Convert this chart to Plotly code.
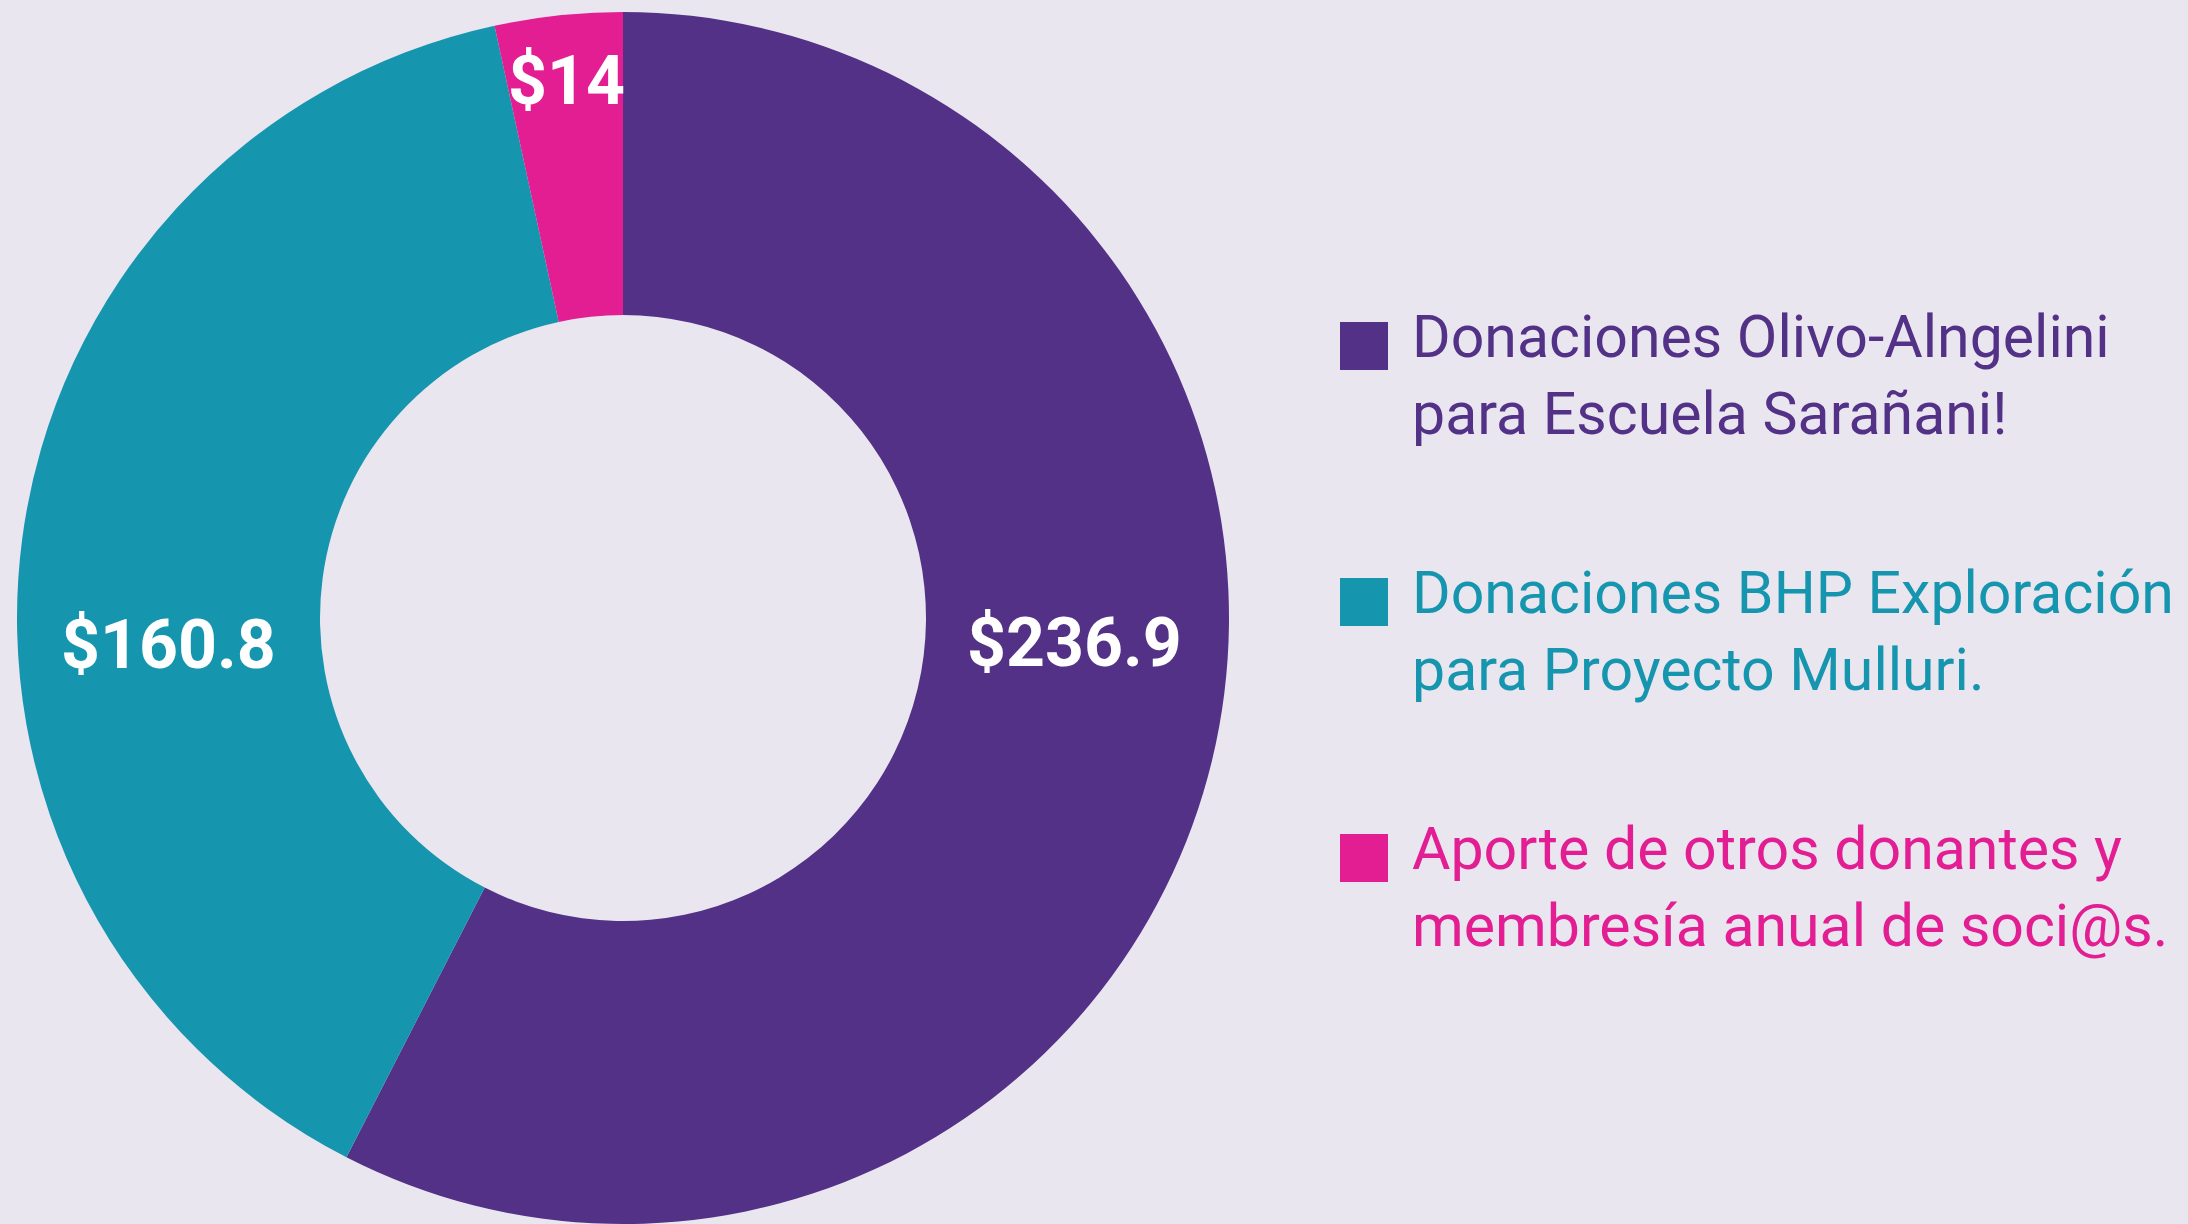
import plotly.graph_objects as go

# ---- data ----
categories = [
    "Donaciones Olivo-Alngelini para Escuela Sarañani!",
    "Donaciones BHP Exploración para Proyecto Mulluri.",
    "Aporte de otros donantes y membresía anual de soci@s.",
]
legend_lines = [
    ["Donaciones Olivo-Alngelini", "para Escuela Sarañani!"],
    ["Donaciones BHP Exploración", "para Proyecto Mulluri."],
    ["Aporte de otros donantes y", "membresía anual de soci@s."],
]
values = [236.9, 160.8, 14]
value_labels = ["$236.9", "$160.8", "$14"]

# ---- styles / layout ----
W, H = 2188, 1224
colors = ["#523187", "#1695AF", "#E31E93"]
bg = "#E9E6F0"
FONT = "Roboto, Lato, sans-serif"

# label anchor positions (px, from top-left)
label_pos = [(1074, 643), (168, 645), (566, 81)]

fig = go.Figure()
fig.add_trace(go.Pie(
    labels=categories,
    values=values,
    hole=0.5,
    sort=False,
    direction="clockwise",
    rotation=0,
    marker=dict(colors=colors, line=dict(width=0)),
    textinfo="none",
    hoverinfo="skip",
    showlegend=False,
    domain=dict(x=[0, 1246 / W], y=[0, 1212 / H]),
))

annotations = []
for txt, (px, py) in zip(value_labels, label_pos):
    annotations.append(dict(
        x=px / W, y=1 - py / H, xref="paper", yref="paper",
        text=txt, showarrow=False, xanchor="center", yanchor="middle",
        font=dict(family=FONT, size=68, color="white", weight="bold"),
    ))

shapes = []
sw_x0, sw_size, top0, step = 1340, 48, 322, 256
text_x, block_mid = 1410, 53
for i, lines in enumerate(legend_lines):
    top = top0 + i * step
    shapes.append(dict(
        type="rect", xref="paper", yref="paper",
        x0=sw_x0 / W, x1=(sw_x0 + sw_size) / W,
        y0=1 - top / H, y1=1 - (top + sw_size) / H,
        fillcolor=colors[i], line=dict(width=0),
    ))
    annotations.append(dict(
        x=text_x / W, y=1 - (top + block_mid) / H, xref="paper", yref="paper",
        text="<br>".join(lines), showarrow=False, align="left",
        xanchor="left", yanchor="middle",
        font=dict(family=FONT, size=59, color=colors[i]),
    ))

fig.update_layout(
    width=W, height=H,
    margin=dict(l=0, r=0, t=0, b=0),
    paper_bgcolor=bg, plot_bgcolor=bg,
    showlegend=False,
    annotations=annotations,
    shapes=shapes,
)

fig.write_html(
    "out.html",
    config={"displayModeBar": False},
    post_script="document.body.style.margin='0';"
                "document.body.style.background='%s';" % bg,
)
